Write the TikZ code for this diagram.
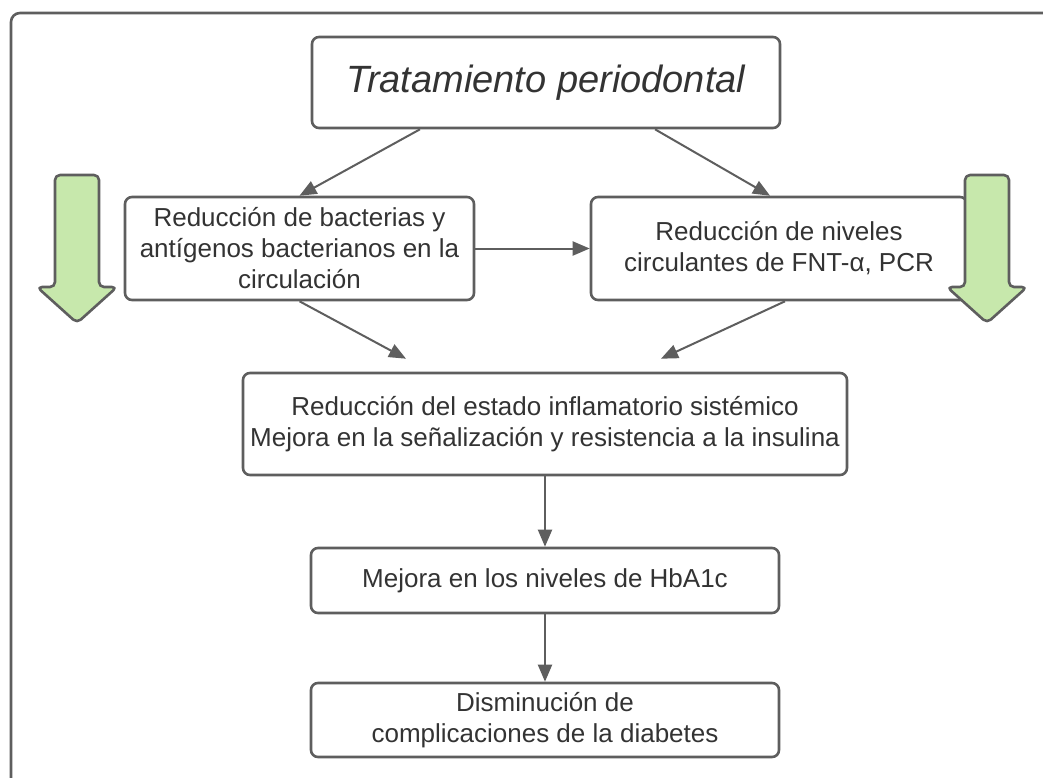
\documentclass[tikz,border=0pt]{standalone}
\usepackage{fontspec}
\setmainfont{Liberation Sans}
\usepackage{tikz}
\usetikzlibrary{positioning}
\usetikzlibrary{arrows.meta}
\definecolor{linegray}{HTML}{5E5E5E}
\definecolor{textgray}{HTML}{333333}
\definecolor{leafgreen}{HTML}{C7E8AC}
\tikzset{>={Triangle[length=17pt,width=14pt]}}
\tikzset{
  box/.style={draw=linegray, line width=2.6pt, rounded corners=7pt, fill=white,
    text=textgray, align=center, inner sep=0pt,
    font=\fontsize{26}{31}\selectfont},
  link/.style={->, draw=linegray, line width=2pt},
  bigarrow/.style={draw=linegray, line width=2.6pt, fill=leafgreen,
    rounded corners=5pt, line join=round}
}

\begin{document}
\begin{tikzpicture}[x=1pt, y=-1pt]
    \useasboundingbox (0,0) rectangle (1043,777);

    % outer frame, cut by the page edge
    \draw[linegray, line width=2.6pt, rounded corners=9pt] (11,13) rectangle (1062,790);

    % boxes
    \node[box, minimum width=468pt, minimum height=91pt,
      font=\fontsize{38}{44}\selectfont\itshape] (trat) at (546,82.5) {Tratamiento periodontal};
    \node[box, minimum width=349pt, minimum height=103pt] (bact) at (299.5,248.5)
      {Reducción de bacterias y\\antígenos bacterianos en la\\circulación};
    \node[box, minimum width=376pt, minimum height=103pt] (fnt) at (779,248.5)
      {Reducción de niveles\\circulantes de FNT-α, PCR};
    \node[box, minimum width=604pt, minimum height=102pt] (infl) at (545,424)
      {Reducción del estado inflamatorio sistémico\\Mejora en la señalización y resistencia a la insulina};
    \node[box, minimum width=468pt, minimum height=65pt] (hba) at (545,580.5)
      {Mejora en los niveles de HbA1c};
    \node[box, minimum width=468pt, minimum height=74pt] (dism) at (545,720)
      {Disminución de\\complicaciones de la diabetes};

    % connectors
    \draw[link] ([xshift=-126pt]trat.south) -- (bact.north);
    \draw[link] ([xshift=109pt]trat.south) -- ([xshift=-9pt]fnt.north);
    \draw[link] (bact.east) -- (fnt.west);
    \draw[link] (bact.south) -- ([xshift=-139pt,yshift=13pt]infl.north);
    \draw[link] ([xshift=6pt]fnt.south) -- ([xshift=116pt,yshift=13pt]infl.north);
    \draw[link] (infl.south) -- (hba.north);
    \draw[link] (hba.south) -- (dism.north);

    % green side arrows
    \foreach \xa in {77,987}{
      \draw[bigarrow] (\xa-22,175) -- (\xa+22,175) -- (\xa+22,287) -- (\xa+40,287)
        -- (\xa,323) -- (\xa-40,287) -- (\xa-22,287) -- cycle;
    }
\end{tikzpicture}
\end{document}
